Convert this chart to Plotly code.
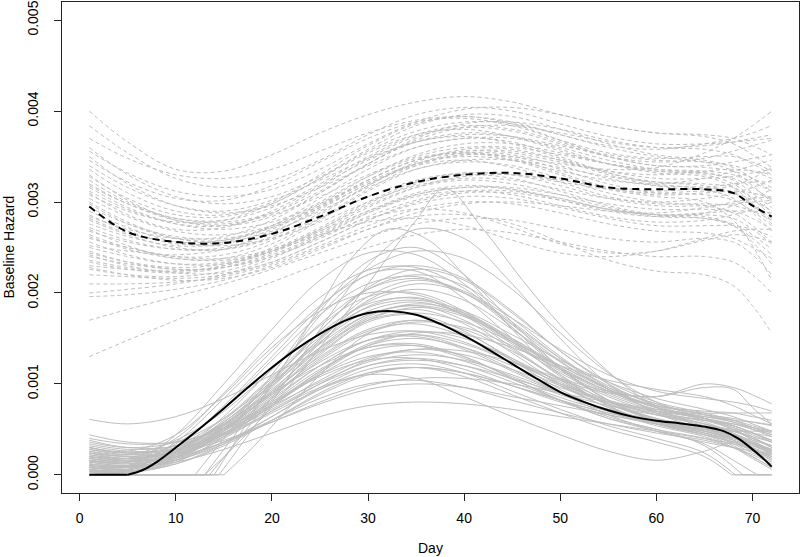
import plotly.graph_objects as go

# ---------------- data (hazard values in units of 1e-4) ----------------
SCALE = 1e-4
DAYS = [1, 5, 10, 15, 20, 25, 30, 35, 40, 45, 50, 55, 60, 65, 68, 70, 72]

X_TICKS = [0, 10, 20, 30, 40, 50, 60, 70]
Y_TICKS = [0.000, 0.001, 0.002, 0.003, 0.004, 0.005]
Y_TICK_LABELS = ["0.000", "0.001", "0.002", "0.003", "0.004", "0.005"]

# pooled estimate (solid black)
MEAN_SOLID_DAYS = [1, 5, 6.5, 8, 10, 12.5, 15, 17.5, 20, 22.5, 25, 27.5, 30, 32.5, 35,
                   37.5, 40, 42.5, 45, 47.5, 50, 52.5, 55, 57.5, 60, 62.5, 65, 67,
                   68.5, 70, 71, 72]
MEAN_SOLID = [0, 0, 0.5, 1.4, 3.0, 5.1, 7.3, 9.6, 11.8, 13.8, 15.5, 16.9, 17.8, 18.0, 17.6,
              16.6, 15.3, 13.8, 12.2, 10.6, 9.1, 8.0, 7.1, 6.4, 5.95, 5.65, 5.3, 4.8,
              4.0, 2.8, 1.9, 0.9]

# pooled estimate (dashed black), on DAYS
MEAN_DASHED = [29.5, 26.7, 25.6, 25.5, 26.5, 28.4, 30.6, 32.2, 33.0, 33.2, 32.6, 31.6, 31.4, 31.4, 31.0, 29.6, 28.4]

# replicate curves, solid gray (on DAYS)
SOLID_GRAY = [
    [1.0, 0.8, 2.5, 5.5, 9.0, 12.0, 14.0, 14.2, 12.8, 10.8, 8.8, 7.2, 6.0, 5.2, 4.4, 3.6, 2.8],
    [2.0, 1.6, 2.6, 5.0, 8.0, 11.0, 13.0, 13.5, 12.5, 10.5, 8.5, 7.0, 6.0, 5.4, 4.8, 4.2, 3.6],
    [0.5, 0.4, 1.8, 4.5, 7.8, 10.8, 12.6, 12.8, 11.6, 9.8, 8.0, 6.6, 5.6, 4.8, 3.8, 2.8, 1.6],
    [3.0, 2.4, 2.8, 4.6, 7.2, 10.0, 12.0, 12.6, 12.0, 10.6, 9.0, 7.6, 6.6, 6.0, 5.6, 5.2, 4.8],
    [1.5, 1.2, 2.2, 4.2, 6.8, 9.4, 11.2, 11.8, 11.2, 9.8, 8.2, 6.8, 5.8, 5.0, 4.2, 3.4, 2.6],
    [6.1, 5.6, 6.4, 8.4, 11.0, 13.6, 15.4, 15.8, 14.6, 12.4, 10.0, 8.0, 6.6, 5.6, 4.8, 4.0, 3.2],
    [4.4, 3.6, 3.6, 5.0, 7.4, 10.4, 12.8, 13.8, 13.2, 11.6, 9.6, 8.0, 7.0, 6.4, 6.0, 5.8, 5.5],
    [3.8, 3.0, 3.2, 5.6, 9.2, 13.0, 16.0, 17.0, 16.0, 13.6, 10.6, 8.2, 6.6, 5.4, 4.4, 3.4, 2.4],
    [2.6, 2.0, 2.8, 5.2, 8.8, 12.8, 15.8, 16.6, 15.2, 12.6, 10.0, 8.2, 7.0, 6.2, 5.4, 4.6, 3.8],
    [2.0, 1.8, 2.4, 3.8, 5.8, 7.8, 9.4, 10.0, 9.6, 8.6, 7.6, 6.6, 5.6, 4.6, 3.8, 3.0, 2.2],
    [1.2, 0.9, 1.8, 3.6, 6.0, 8.4, 10.0, 10.4, 9.6, 8.2, 6.8, 5.6, 4.6, 3.8, 3.0, 2.2, 1.2],
    [0.8, 0.6, 2.2, 5.2, 8.8, 12.4, 14.8, 15.2, 13.8, 11.4, 9.0, 7.0, 5.6, 4.6, 3.6, 2.6, 1.6],
    [2.4, 1.8, 2.6, 5.0, 8.6, 12.6, 15.6, 16.8, 16.2, 14.2, 11.6, 9.2, 7.4, 6.2, 5.4, 4.6, 3.8],
    [1.6, 1.4, 2.6, 5.8, 10.0, 14.6, 18.0, 19.0, 17.6, 14.6, 11.4, 8.8, 7.0, 5.8, 4.6, 3.4, 2.2],
    [3.4, 2.8, 3.2, 5.4, 9.0, 13.4, 17.0, 18.4, 17.4, 14.8, 11.8, 9.2, 7.4, 6.4, 5.8, 5.2, 4.6],
    [0.4, 0.3, 1.6, 4.8, 9.2, 14.0, 17.6, 18.6, 17.0, 13.8, 10.4, 7.8, 6.2, 5.2, 4.2, 3.0, 1.8],
    [2.2, 1.8, 2.8, 5.6, 10.0, 15.0, 19.0, 20.4, 19.2, 16.0, 12.4, 9.4, 7.4, 6.0, 5.0, 4.0, 3.0],
    [1.0, 0.8, 2.0, 5.0, 9.6, 14.8, 19.2, 21.0, 20.0, 16.8, 12.8, 9.4, 7.0, 5.6, 4.6, 3.6, 2.4],
    [3.0, 2.4, 3.0, 5.8, 10.4, 15.8, 20.4, 22.0, 20.8, 17.2, 13.0, 9.6, 7.4, 6.2, 5.4, 4.6, 3.6],
    [1.8, 1.4, 2.4, 5.4, 10.2, 15.8, 20.6, 22.6, 21.4, 17.8, 13.6, 10.2, 8.0, 6.8, 6.0, 5.2, 4.4],
    [0.6, 0.4, 1.4, 4.2, 8.4, 13.2, 16.8, 17.6, 15.8, 12.6, 9.4, 7.0, 5.4, 4.2, 3.0, 1.8, 0.6],
    [2.8, 2.2, 2.6, 4.6, 7.8, 11.4, 14.2, 15.0, 14.0, 12.0, 9.8, 8.0, 6.8, 6.0, 5.2, 4.4, 3.6],
    [1.4, 1.0, 1.6, 3.4, 6.0, 8.8, 11.0, 11.8, 11.2, 9.8, 8.2, 6.8, 5.8, 5.0, 4.4, 3.8, 3.2],
    [0.2, 0.2, 1.2, 3.4, 6.4, 9.6, 12.0, 12.8, 12.0, 10.2, 8.2, 6.4, 5.0, 4.0, 3.0, 2.0, 0.8],
    [1.0, 0.8, 1.4, 2.8, 4.6, 6.4, 7.6, 8.0, 7.8, 7.2, 6.4, 5.6, 4.8, 4.0, 3.4, 2.8, 2.2],
    [2.0, 1.6, 2.0, 3.6, 5.8, 8.0, 9.8, 10.6, 10.6, 10.0, 9.0, 8.0, 7.2, 6.6, 6.2, 5.8, 5.4],
    [3.2, 2.6, 2.8, 4.4, 7.0, 10.0, 12.6, 13.8, 13.6, 12.4, 10.6, 9.2, 8.6, 10.0, 9.6, 8.8, 7.8],
    [1.6, 1.2, 2.0, 4.2, 7.6, 11.4, 14.4, 15.4, 14.4, 12.4, 10.4, 9.0, 8.6, 9.6, 9.4, 7.4, 5.6],
    [2.4, 2.0, 2.6, 4.8, 8.2, 12.0, 14.8, 15.4, 14.0, 11.6, 9.0, 6.6, 4.8, 3.6, 3.0, 2.6, 2.2],
    [1.2, 1.0, 2.2, 5.0, 9.0, 13.6, 17.2, 18.2, 16.6, 13.4, 10.0, 7.4, 5.8, 5.0, 4.8, 4.8, 4.8],
    [0.8, 0.6, 2.0, 5.2, 9.8, 15.0, 19.6, 21.4, 20.0, 16.2, 11.8, 8.2, 5.8, 4.4, 3.2, 2.0, 0.8],
    [2.6, 2.2, 3.0, 5.6, 9.4, 13.8, 17.4, 18.8, 17.8, 15.0, 11.8, 9.2, 7.6, 7.0, 6.8, 6.4, 6.0],
    [1.8, 1.4, 2.2, 4.4, 7.6, 11.2, 14.2, 15.6, 15.4, 14.0, 12.0, 10.4, 9.4, 8.6, 7.6, 6.6, 5.6],
    [4.0, 3.4, 3.6, 5.2, 7.6, 10.2, 12.4, 13.2, 12.6, 11.0, 9.0, 7.2, 6.0, 5.4, 5.0, 4.6, 4.2],
    [0.3, 0.3, 1.8, 4.8, 8.4, 12.0, 14.8, 15.8, 15.0, 12.8, 10.2, 7.8, 6.0, 4.6, 3.4, 2.4, 1.4],
    [0.8, 0.6, 1.6, 4.0, 7.0, 9.6, 11.0, 10.6, 8.6, 6.4, 4.4, 2.6, 1.6, 2.6, 3.6, 3.4, 2.6],
    [2.0, 1.8, 4.0, 9.0, 14.5, 19.5, 22.5, 22.8, 20.5, 16.5, 12.5, 9.4, 7.4, 6.2, 5.4, 4.6, 3.8],
    [1.0, 1.0, 3.6, 8.4, 13.6, 18.6, 22.0, 23.0, 21.6, 18.0, 13.6, 10.0, 7.6, 6.2, 5.2, 4.2, 3.0],
    [3.0, 2.6, 4.4, 8.8, 14.0, 18.0, 20.0, 19.8, 17.8, 14.8, 11.6, 9.0, 7.2, 6.2, 5.6, 5.0, 4.4],
    [0.4, 0.6, 3.0, 7.6, 13.0, 18.4, 22.6, 24.6, 23.8, 20.4, 15.6, 11.2, 8.0, 6.2, 5.0, 3.8, 2.6],
    [1.6, 1.4, 3.4, 7.4, 12.6, 17.6, 21.0, 21.8, 20.0, 16.6, 12.8, 9.8, 7.8, 6.6, 5.8, 5.0, 4.2],
    [2.4, 2.2, 3.8, 7.0, 11.6, 16.6, 20.4, 21.6, 20.2, 17.2, 13.8, 11.0, 9.2, 8.4, 8.0, 7.6, 7.0],
    [0.8, 1.0, 4.4, 10.0, 16.0, 21.4, 24.4, 24.2, 21.0, 16.2, 11.6, 8.2, 6.2, 5.2, 4.4, 3.6, 2.8],
    [1.2, 1.0, 2.6, 6.0, 10.6, 15.2, 18.4, 19.2, 18.0, 15.4, 12.6, 10.2, 8.4, 7.2, 6.4, 5.6, 4.8],
    [2.8, 2.4, 3.2, 6.2, 10.8, 15.6, 18.8, 19.4, 17.6, 14.4, 11.2, 8.6, 6.8, 5.6, 4.8, 4.0, 3.2],
    [0.6, 0.5, 2.4, 6.4, 11.6, 16.4, 19.6, 20.0, 18.0, 14.6, 11.0, 8.0, 6.0, 4.8, 3.8, 2.8, 1.8],
    [1.8, 1.6, 2.8, 5.8, 9.8, 14.0, 17.0, 17.8, 16.8, 14.6, 12.0, 9.6, 7.8, 6.6, 6.0, 5.4, 4.8],
    [3.6, 3.0, 3.6, 6.2, 10.2, 14.4, 17.6, 18.6, 17.6, 15.0, 12.0, 9.4, 7.6, 6.8, 6.8, 6.8, 6.8],
]

# replicate curves, solid gray, that sit at zero for part of the range (own day grids)
SOLID_GRAY_ZERO_DAYS = [
    [1, 13.5, 17, 20, 25, 30, 35, 40, 45, 50, 55, 60, 65, 68, 70, 72],
    [1, 14, 17, 20, 25, 30, 35, 40, 45, 50, 55, 60, 65, 68, 70, 72],
    [1, 12, 15, 20, 25, 30, 35, 40, 45, 50, 55, 60, 65, 68, 70, 72],
    [1, 13, 16, 20, 25, 30, 35, 38, 42, 46, 50, 54, 58, 62, 66, 69, 72],
    [1, 14.5, 17, 20, 25, 30, 35, 40, 45, 50, 55, 60, 65, 68, 70, 72],
    [1, 13, 16, 20, 25, 28, 32, 36, 40, 45, 50, 55, 60, 65, 68, 70, 72],
    [1, 15, 18, 21, 25, 30, 35, 40, 45, 50, 55, 60, 65, 68, 70, 72],
    [1, 5, 10, 15, 20, 25, 30, 35, 40, 45, 50, 55, 60, 65, 68.2, 72],
    [1, 5, 10, 15, 20, 25, 30, 35, 40, 45, 50, 55, 60, 65, 67.8, 72],
    [1, 5, 10, 15, 20, 25, 30, 35, 40, 45, 50, 55, 60, 65, 68, 70.5, 72],
    [1, 5, 10, 15, 20, 25, 30, 35, 40, 45, 50, 55, 60, 65, 69, 72],
]
SOLID_GRAY_ZERO = [
    [0, 0, 4.5, 8.5, 14.5, 18.5, 19.5, 17.5, 14.0, 10.5, 7.8, 6.0, 5.0, 4.2, 3.4, 2.6],
    [0, 0, 5.0, 10.0, 17.5, 22.0, 22.4, 19.4, 15.0, 10.8, 7.6, 5.6, 4.4, 3.6, 2.8, 2.0],
    [0, 0, 4.0, 11.0, 18.0, 23.5, 25.0, 22.0, 16.8, 11.8, 8.2, 6.0, 4.8, 4.0, 3.2, 2.4],
    [0, 0, 3.0, 7.5, 14.0, 21.0, 28.0, 31.5, 27.0, 21.5, 16.5, 12.3, 8.8, 6.4, 4.8, 3.8, 2.8],
    [0, 0, 3.6, 8.0, 16.0, 23.0, 27.0, 26.0, 21.0, 15.0, 10.0, 6.8, 5.0, 4.0, 3.2, 2.4],
    [0, 0, 4.2, 10.0, 18.5, 23.5, 27.0, 26.0, 22.0, 16.0, 11.0, 7.6, 5.6, 4.4, 3.6, 2.8, 2.0],
    [0, 0, 3.0, 6.5, 11.0, 15.5, 17.0, 15.6, 12.8, 9.8, 7.4, 5.8, 4.8, 4.0, 3.4, 2.8],
    [1.4, 1.0, 1.6, 3.6, 6.4, 9.4, 11.6, 12.2, 11.2, 9.2, 7.2, 5.4, 4.0, 2.4, 0, 0],
    [0.6, 0.4, 1.2, 3.2, 6.0, 9.0, 11.2, 11.8, 10.8, 8.8, 6.8, 5.0, 3.6, 2.0, 0, 0],
    [2.2, 1.8, 2.4, 4.4, 7.6, 11.0, 13.6, 14.2, 13.0, 10.6, 8.2, 6.2, 4.8, 3.4, 1.6, 0, 0],
    [1.0, 0.8, 2.0, 4.6, 8.0, 11.6, 14.0, 14.4, 13.0, 10.6, 8.2, 6.2, 5.0, 3.2, 0, 0],
]

# replicate curves, dashed gray (on DAYS)
DASHED_GRAY = [
    [40.0, 36.6, 33.6, 33.4, 35.2, 37.6, 39.6, 41.0, 41.6, 41.0, 39.6, 38.4, 37.6, 37.2, 36.4, 35.2, 33.8],
    [37.0, 34.8, 33.0, 32.6, 33.6, 35.6, 37.6, 39.0, 39.4, 38.8, 37.4, 36.2, 35.8, 36.4, 37.0, 37.6, 38.4],
    [34.0, 31.6, 29.6, 29.0, 30.2, 32.4, 34.8, 36.6, 37.4, 37.2, 36.2, 35.2, 34.6, 34.4, 34.0, 33.4, 32.6],
    [32.0, 29.8, 28.0, 27.6, 28.6, 30.6, 33.0, 35.0, 36.0, 36.0, 35.2, 34.2, 33.6, 33.4, 33.0, 32.2, 31.2],
    [30.0, 27.8, 26.0, 25.6, 26.8, 29.0, 31.6, 33.6, 34.6, 34.6, 33.8, 32.8, 32.2, 32.0, 31.6, 30.4, 29.0],
    [28.0, 26.4, 25.0, 24.8, 26.0, 28.2, 30.6, 32.4, 33.2, 33.0, 32.2, 31.4, 31.0, 31.2, 31.0, 30.2, 29.0],
    [26.0, 25.0, 24.0, 23.8, 24.8, 26.8, 29.0, 30.8, 31.6, 31.6, 30.8, 29.8, 29.2, 29.2, 29.0, 28.2, 27.0],
    [24.0, 23.2, 22.6, 22.8, 24.0, 26.0, 28.4, 30.2, 31.2, 31.2, 30.4, 29.2, 28.4, 28.2, 27.6, 26.4, 24.8],
    [22.0, 21.8, 21.6, 22.0, 23.4, 25.6, 28.0, 29.8, 30.6, 30.4, 29.4, 28.2, 27.4, 27.4, 27.4, 27.0, 26.2],
    [31.0, 28.6, 27.0, 27.2, 29.0, 31.8, 34.6, 36.6, 37.2, 36.4, 34.8, 33.2, 32.2, 31.8, 31.0, 29.6, 28.0],
    [33.0, 30.2, 28.0, 27.4, 28.4, 31.0, 34.2, 37.0, 38.6, 38.8, 38.0, 36.8, 36.0, 35.8, 35.2, 34.2, 33.0],
    [29.0, 27.2, 25.6, 25.2, 26.0, 27.8, 30.0, 31.8, 32.6, 32.4, 31.4, 30.4, 30.0, 30.4, 31.0, 31.6, 32.4],
    [27.0, 25.2, 23.8, 23.8, 25.4, 28.2, 31.4, 34.0, 35.2, 35.0, 33.6, 32.0, 31.0, 30.8, 30.2, 29.0, 27.4],
    [25.0, 24.0, 23.2, 23.4, 24.8, 27.2, 30.0, 32.2, 33.2, 33.0, 31.8, 30.4, 29.6, 29.6, 29.8, 30.0, 30.2],
    [35.0, 32.0, 29.6, 28.8, 29.6, 31.6, 34.0, 36.0, 37.0, 37.0, 36.0, 34.6, 33.6, 33.2, 32.4, 31.0, 29.4],
    [23.0, 22.6, 22.4, 23.0, 24.6, 27.0, 29.6, 31.6, 32.4, 32.0, 30.8, 29.4, 28.6, 28.6, 28.2, 27.0, 25.4],
    [28.6, 26.8, 25.4, 25.6, 27.4, 30.4, 33.6, 36.0, 37.0, 36.6, 35.0, 33.2, 32.0, 31.4, 30.4, 28.8, 26.8],
    [31.6, 29.4, 27.6, 27.0, 27.8, 29.8, 32.4, 34.6, 35.6, 35.6, 34.6, 33.4, 32.6, 32.6, 32.8, 33.2, 33.6],
    [26.4, 25.0, 24.0, 24.2, 25.8, 28.6, 31.8, 34.4, 35.8, 35.8, 34.6, 33.0, 31.8, 31.4, 31.8, 32.6, 33.8],
    [24.6, 23.4, 22.6, 22.8, 24.2, 26.4, 28.8, 30.6, 31.2, 30.8, 29.6, 28.4, 27.8, 28.0, 28.6, 29.2, 30.0],
    [36.0, 33.0, 30.6, 29.8, 30.6, 32.8, 35.6, 37.8, 38.8, 38.6, 37.4, 36.0, 35.0, 34.4, 33.4, 31.8, 30.0],
    [21.0, 21.0, 21.2, 21.8, 23.2, 25.2, 27.4, 29.2, 30.0, 29.8, 28.8, 27.6, 26.8, 26.6, 26.0, 25.0, 23.8],
    [17.0, 18.2, 19.6, 21.0, 22.6, 24.4, 26.2, 27.6, 28.2, 28.0, 27.0, 26.0, 25.6, 26.0, 25.6, 24.2, 22.0],
    [13.0, 14.8, 17.0, 19.2, 21.2, 23.2, 25.0, 26.4, 27.0, 26.6, 25.6, 24.6, 24.0, 24.0, 23.4, 22.0, 20.0],
    [19.6, 19.8, 20.4, 21.4, 23.0, 25.0, 27.0, 28.4, 28.6, 27.6, 25.6, 23.6, 22.4, 22.0, 20.8, 18.6, 15.6],
    [22.6, 22.0, 21.8, 22.4, 24.0, 26.2, 28.2, 29.2, 28.8, 27.2, 25.4, 24.4, 24.6, 25.8, 26.4, 26.2, 25.6],
    [30.4, 28.4, 26.8, 26.4, 27.4, 29.6, 32.2, 34.2, 35.0, 34.6, 33.4, 32.4, 32.0, 32.6, 33.4, 34.0, 34.6],
    [32.8, 30.4, 28.6, 28.4, 29.8, 32.6, 35.8, 38.4, 39.6, 39.4, 38.0, 36.4, 35.2, 34.6, 33.8, 32.6, 31.2],
    [27.6, 26.2, 25.2, 25.4, 27.0, 29.6, 32.4, 34.6, 35.6, 35.4, 34.4, 33.4, 33.0, 33.4, 33.6, 33.4, 33.0],
    [25.6, 24.2, 23.2, 23.2, 24.6, 27.0, 29.8, 32.0, 33.0, 32.6, 31.2, 29.6, 28.6, 28.2, 27.4, 26.0, 24.2],
    [29.4, 27.6, 26.2, 26.0, 27.2, 29.4, 32.0, 34.2, 35.2, 35.0, 34.2, 33.6, 33.8, 35.4, 37.0, 38.4, 40.0],
    [38.4, 35.4, 32.6, 31.6, 32.4, 34.6, 37.4, 39.6, 40.4, 40.0, 38.6, 37.2, 36.4, 36.4, 36.6, 36.8, 37.0],
    [23.6, 22.8, 22.4, 23.0, 25.0, 28.0, 31.2, 33.6, 34.4, 34.0, 32.6, 31.0, 30.0, 29.6, 28.8, 27.4, 25.6],
    [31.8, 29.8, 28.2, 28.0, 29.4, 32.0, 35.0, 37.4, 38.4, 38.0, 36.6, 35.0, 34.0, 33.8, 33.4, 32.6, 31.6],
    [26.8, 25.6, 24.8, 25.0, 26.6, 29.2, 32.0, 34.0, 34.6, 33.8, 32.2, 30.6, 29.8, 29.8, 29.6, 29.0, 28.0],
    [20.0, 20.4, 21.0, 22.0, 23.8, 26.2, 28.8, 30.8, 31.6, 31.4, 30.4, 29.2, 28.6, 28.8, 29.0, 29.0, 28.8],
    [24.4, 23.4, 22.8, 23.2, 24.6, 26.4, 27.8, 28.2, 27.4, 25.8, 24.4, 24.0, 24.6, 26.0, 26.8, 27.0, 27.0],
    [28.2, 26.6, 25.6, 25.8, 27.4, 30.0, 32.8, 34.8, 35.4, 34.6, 33.0, 31.4, 30.6, 30.0, 28.0, 25.2, 21.4],
    [34.6, 32.2, 30.4, 30.2, 31.8, 34.4, 37.0, 38.8, 39.2, 38.4, 36.8, 35.4, 34.8, 35.0, 35.0, 34.4, 33.4],
    [22.8, 22.0, 21.4, 21.6, 22.8, 24.8, 27.0, 28.8, 29.8, 30.0, 29.6, 29.0, 28.8, 29.4, 30.0, 30.4, 30.6],
    [30.8, 29.0, 27.8, 28.0, 29.8, 32.6, 35.4, 37.4, 38.0, 37.2, 35.6, 34.2, 33.4, 33.2, 32.6, 31.6, 30.2],
    [27.2, 25.8, 24.8, 24.8, 26.2, 28.8, 31.8, 34.2, 35.4, 35.2, 34.0, 32.6, 31.8, 31.6, 31.0, 29.8, 28.2],
    [33.6, 31.0, 29.0, 28.6, 30.0, 33.0, 36.2, 38.6, 39.4, 38.6, 36.8, 35.0, 34.0, 34.0, 34.4, 34.8, 35.2],
    [25.2, 24.6, 24.2, 24.8, 26.6, 29.4, 32.4, 34.6, 35.4, 34.8, 33.2, 31.6, 30.8, 31.0, 31.2, 31.0, 30.4],
    [29.8, 27.6, 26.0, 25.8, 27.2, 29.8, 32.8, 35.2, 36.4, 36.4, 35.4, 34.2, 33.4, 33.0, 32.0, 30.4, 28.4],
    [23.4, 22.6, 22.2, 22.8, 24.4, 26.8, 29.4, 31.6, 32.8, 33.0, 32.4, 31.6, 31.2, 31.6, 32.0, 32.2, 32.2],
    [35.6, 33.2, 31.2, 30.6, 31.4, 33.6, 36.4, 38.8, 40.2, 40.4, 39.6, 38.4, 37.6, 37.4, 37.0, 36.2, 35.2],
    [28.4, 27.0, 26.0, 26.2, 28.0, 31.0, 34.2, 36.6, 37.6, 37.2, 35.8, 34.2, 33.2, 32.8, 31.6, 29.8, 27.6],
    [26.2, 24.8, 23.8, 23.6, 24.6, 26.6, 29.0, 31.0, 31.8, 31.4, 30.2, 29.0, 28.4, 28.8, 29.6, 30.4, 31.4],
    [32.4, 30.0, 28.2, 27.8, 28.8, 31.2, 34.2, 36.8, 38.2, 38.4, 37.6, 36.6, 36.0, 36.2, 36.6, 37.0, 37.4],
    [24.2, 23.0, 22.2, 22.2, 23.4, 25.6, 28.0, 30.0, 31.0, 31.0, 30.2, 29.2, 28.6, 28.4, 27.4, 25.6, 23.2],
    [31.2, 29.2, 27.6, 27.4, 28.8, 31.6, 34.8, 37.2, 38.2, 37.8, 36.4, 35.0, 34.4, 34.8, 35.6, 36.2, 36.8],
]

# ---------------- styles ----------------
GRAY = "#BEBEBE"
FONT = "Liberation Sans, Arial, Helvetica, sans-serif"

fig = go.Figure()


def add_curve(days, vals, color, width, dash):
    """Draw a curve; runs of exact zeros at either end are drawn straight."""
    n = len(vals)
    y = [v * SCALE for v in vals]
    i0 = 0
    while i0 + 1 < n and vals[i0] == 0 and vals[i0 + 1] == 0:
        i0 += 1
    j0 = n - 1
    while j0 - 1 > i0 and vals[j0] == 0 and vals[j0 - 1] == 0:
        j0 -= 1
    line_lin = dict(color=color, width=width, dash=dash)
    line_spl = dict(color=color, width=width, dash=dash, shape="spline", smoothing=1)
    if i0 > 0:
        fig.add_trace(go.Scatter(x=days[:i0 + 1], y=y[:i0 + 1], mode="lines",
                                 line=line_lin, hoverinfo="skip"))
    fig.add_trace(go.Scatter(x=days[i0:j0 + 1], y=y[i0:j0 + 1], mode="lines",
                             line=line_spl, hoverinfo="skip"))
    if j0 < n - 1:
        fig.add_trace(go.Scatter(x=days[j0:], y=y[j0:], mode="lines",
                                 line=line_lin, hoverinfo="skip"))


for vals in DASHED_GRAY:
    add_curve(DAYS, vals, GRAY, 1, "4px,3px")
for vals in SOLID_GRAY:
    add_curve(DAYS, vals, GRAY, 1, "solid")
for d, vals in zip(SOLID_GRAY_ZERO_DAYS, SOLID_GRAY_ZERO):
    add_curve(d, vals, GRAY, 1, "solid")

add_curve(DAYS, MEAN_DASHED, "black", 2, "7px,5px")
add_curve(MEAN_SOLID_DAYS, MEAN_SOLID, "black", 2, "solid")

axis_common = dict(
    showgrid=False, zeroline=False, showline=True, mirror=True, automargin=False,
    linecolor="#222222", linewidth=1, ticks="outside", ticklen=7,
    tickcolor="#222222", tickwidth=1,
    tickfont=dict(family=FONT, size=14, color="black"),
)

fig.update_layout(
    width=800, height=557,
    margin=dict(l=62, r=1, t=2, b=64, autoexpand=False),
    paper_bgcolor="white", plot_bgcolor="white",
    showlegend=False, hovermode=False,
    xaxis=dict(range=[-1.84, 74.84], tickvals=X_TICKS, ticklabelstandoff=5, **axis_common),
    yaxis=dict(range=[-0.0002, 0.0052], tickvals=Y_TICKS, ticktext=Y_TICK_LABELS,
               tickangle=-90, ticklabelstandoff=10, **axis_common),
    annotations=[
        dict(text="Day", xref="paper", yref="paper", x=0.5, y=-0.112,
             xanchor="center", yanchor="middle", showarrow=False,
             font=dict(family=FONT, size=14, color="black")),
        dict(text="Baseline Hazard", xref="paper", yref="paper", x=-0.0732, y=0.5,
             xanchor="center", yanchor="middle", textangle=-90, showarrow=False,
             font=dict(family=FONT, size=14, color="black")),
    ],
)

fig.write_html("out.html", config={"displayModeBar": False},
               post_script="document.body.style.margin='0';")
